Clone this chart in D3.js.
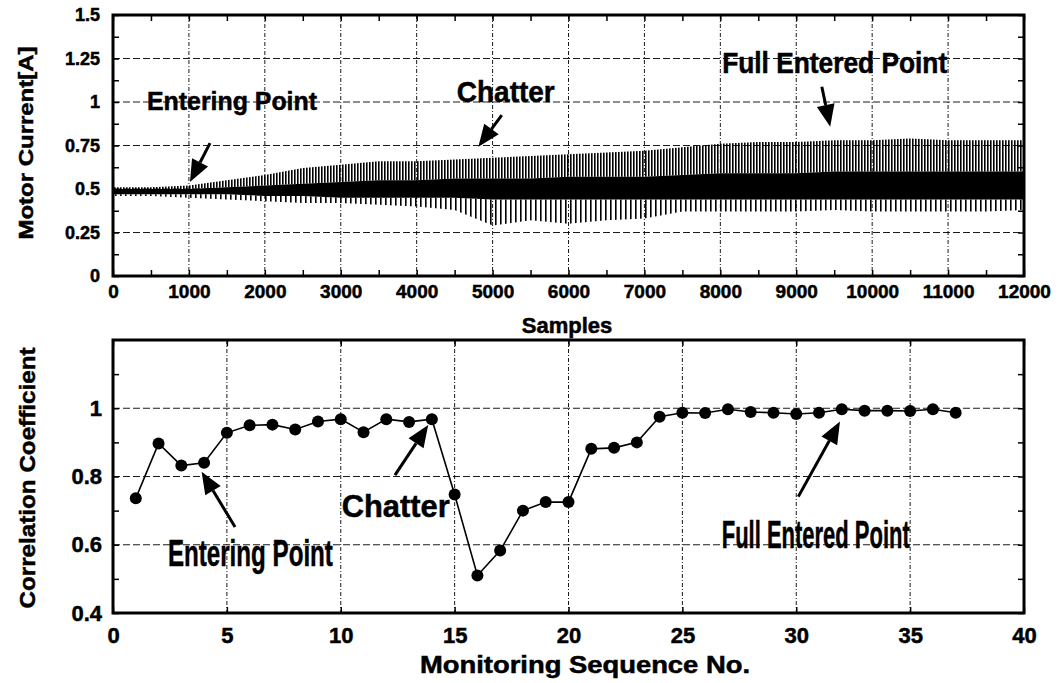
<!DOCTYPE html>
<html>
<head>
<meta charset="utf-8">
<script src="https://cdn.jsdelivr.net/npm/d3@7"></script>
<style>
  body { margin: 0; background: #fff; }
  text { font-family: "Liberation Sans", Arial, sans-serif; font-weight: bold; fill: #000;
         stroke: #000; stroke-width: 0.5px; }
</style>
</head>
<body>
<svg id="chart" width="1061" height="683"></svg>
<script>
'use strict';

// --- top panel: motor current envelope, read every 500 samples ---
const samplePos = [0, 500, 1000, 1500, 2000, 2500, 3000, 3500, 4000, 4500, 5000, 5500,
  6000, 6500, 7000, 7500, 8000, 8500, 9000, 9500, 10000, 10500, 11000, 11500, 12000];
const peakCurrent = [0.51, 0.51, 0.52, 0.55, 0.58, 0.62, 0.64, 0.66, 0.66, 0.67, 0.68, 0.69,
  0.70, 0.71, 0.72, 0.74, 0.76, 0.77, 0.77, 0.78, 0.78, 0.79, 0.78, 0.78, 0.78];
const coreHigh = [0.50, 0.50, 0.50, 0.51, 0.52, 0.53, 0.54, 0.55, 0.55, 0.56, 0.56, 0.56,
  0.57, 0.57, 0.57, 0.58, 0.59, 0.59, 0.59, 0.60, 0.60, 0.60, 0.60, 0.60, 0.60];
const coreLow = [0.47, 0.47, 0.47, 0.47, 0.46, 0.46, 0.45, 0.45, 0.45, 0.45, 0.44, 0.44,
  0.44, 0.44, 0.44, 0.44, 0.44, 0.44, 0.44, 0.44, 0.44, 0.44, 0.44, 0.44, 0.44];
const troughCurrent = [0.46, 0.46, 0.45, 0.44, 0.43, 0.42, 0.42, 0.41, 0.40, 0.38, 0.29, 0.32,
  0.30, 0.32, 0.33, 0.37, 0.37, 0.37, 0.37, 0.38, 0.37, 0.37, 0.37, 0.37, 0.38];

const sampleTicks = [0, 1000, 2000, 3000, 4000, 5000, 6000, 7000, 8000, 9000, 10000, 11000, 12000];
const currentTicks = [0, 0.25, 0.5, 0.75, 1, 1.25, 1.5];

// --- bottom panel: correlation coefficient per monitoring sequence ---
const seqNo = [1, 2, 3, 4, 5, 6, 7, 8, 9, 10, 11, 12, 13, 14, 15, 16, 17, 18, 19,
  20, 21, 22, 23, 24, 25, 26, 27, 28, 29, 30, 31, 32, 33, 34, 35, 36, 37];
const corrCoef = [0.736, 0.897, 0.832, 0.840, 0.928, 0.950, 0.952, 0.938, 0.961, 0.968,
  0.930, 0.968, 0.960, 0.968, 0.747, 0.510, 0.583, 0.700, 0.725, 0.725, 0.881, 0.884,
  0.900, 0.975, 0.987, 0.986, 0.997, 0.989, 0.987, 0.983, 0.987, 0.997, 0.993, 0.993,
  0.992, 0.997, 0.987];

const seqTicks = [0, 5, 10, 15, 20, 25, 30, 35, 40];
const corrTicks = [0.4, 0.6, 0.8, 1];

const topNotes = [
  { text: 'Entering Point', at: [448, 0.954], size: 25, width: 170, from: [1278, 0.764], to: [1014, 0.54] },
  { text: 'Chatter', at: [4528, 1.0], size: 30, width: 98, from: [5121, 0.925], to: [4813, 0.743] },
  { text: 'Full Entered Point', at: [8024, 1.165], size: 29, width: 225, from: [9337, 1.088], to: [9447, 0.858] },
];
const bottomNotes = [
  { text: 'Entering Point', at: [2.41, 0.538], size: 37, width: 165, from: [5.36, 0.652], to: [3.89, 0.814] },
  { text: 'Chatter', at: [10.04, 0.681], size: 31, width: 108, from: [12.38, 0.804], to: [13.84, 0.951] },
  { text: 'Full Entered Point', at: [26.73, 0.59], size: 39, width: 188, from: [30.09, 0.741], to: [31.92, 0.961] },
];

const svg = d3.select('#chart');
const defs = svg.append('defs');

function stripes(id, period, w) {
  const p = defs.append('pattern')
    .attr('id', id)
    .attr('patternUnits', 'userSpaceOnUse')
    .attr('width', period)
    .attr('height', 8);
  p.append('rect').attr('width', w).attr('height', 8).attr('fill', '#000');
}
stripes('upperStripes', 3, 1.6);
stripes('lowerStripes', 5, 1.6);

const xTop = d3.scaleLinear().domain([0, 12000]).range([113, 1024]);
const yTop = d3.scaleLinear().domain([0, 1.5]).range([276, 15]);
const xBot = d3.scaleLinear().domain([0, 40]).range([113, 1024]);
const yBot = d3.scaleLinear().domain([0.4, 1.2]).range([613, 340]);

function drawFrame(x, y, opt) {
  const g = svg.append('g');
  const [xa, xb] = x.range();
  const [ya, yb] = y.range();

  // dashed grid
  g.selectAll('.vgrid')
    .data(opt.xTicks.slice(1, -1))
    .enter().append('line')
    .attr('x1', (d) => x(d)).attr('x2', (d) => x(d))
    .attr('y1', yb).attr('y2', ya)
    .attr('stroke', '#000').attr('stroke-width', 0.9)
    .attr('stroke-dasharray', '4,2,1,2');
  g.selectAll('.hgrid')
    .data(opt.yTicks.filter((d) => y(d) > yb + 2 && y(d) < ya - 2))
    .enter().append('line')
    .attr('x1', xa).attr('x2', xb)
    .attr('y1', (d) => y(d)).attr('y2', (d) => y(d))
    .attr('stroke', '#000').attr('stroke-width', 0.9)
    .attr('stroke-dasharray', '7,3');

  // axes with inward ticks, labels on bottom / left
  const ax = (axis, tr, vals, fmt, pad, size) => {
    const a = g.append('g')
      .attr('transform', tr)
      .call(axis.tickValues(vals).tickSizeInner(-6).tickSizeOuter(0)
        .tickPadding(pad).tickFormat(fmt));
    a.select('.domain').remove();
    a.selectAll('line').attr('stroke', '#000').attr('stroke-width', 1.5);
    a.selectAll('text').attr('font-size', size).attr('font-family', null);
    return a;
  };
  const none = () => '';
  ax(d3.axisBottom(x), `translate(0,${ya})`, opt.xTicks, opt.xFmt, opt.xPad, opt.xSize);
  ax(d3.axisBottom(x), `translate(0,${ya})`, opt.xMinor, none, 0, 0);
  ax(d3.axisTop(x), `translate(0,${yb})`, opt.xTicks.concat(opt.xMinor), none, 0, 0);
  ax(d3.axisLeft(y), `translate(${xa},0)`, opt.yTicks, opt.yFmt, opt.yPad, opt.ySize);
  ax(d3.axisLeft(y), `translate(${xa},0)`, opt.yMinor, none, 0, 0);
  ax(d3.axisRight(y), `translate(${xb},0)`, opt.yTicks.concat(opt.yMinor), none, 0, 0);

  return g;
}

function addFrameBorder(x, y) {
  const [xa, xb] = x.range();
  const [ya, yb] = y.range();
  svg.append('rect')
    .attr('x', xa).attr('y', yb)
    .attr('width', xb - xa).attr('height', ya - yb)
    .attr('fill', 'none').attr('stroke', '#000').attr('stroke-width', 3);
}

function arrow(g, x, y, from, to) {
  const ax = x(from[0]), ay = y(from[1]);
  const bx = x(to[0]), by = y(to[1]);
  const ang = Math.atan2(by - ay, bx - ax);
  const len = 22, half = 9;
  const cx = bx - len * Math.cos(ang), cy = by - len * Math.sin(ang);
  const px = -Math.sin(ang) * half, py = Math.cos(ang) * half;
  g.append('line')
    .attr('x1', ax).attr('y1', ay).attr('x2', cx).attr('y2', cy)
    .attr('stroke', '#000').attr('stroke-width', 3);
  g.append('polygon')
    .attr('points', [[bx, by], [cx + px, cy + py], [cx - px, cy - py]].map((p) => p.join(',')).join(' '))
    .attr('fill', '#000');
}

function notes(x, y, list) {
  const g = svg.append('g');
  list.forEach((n) => {
    g.append('text')
      .attr('x', x(n.at[0])).attr('y', y(n.at[1]))
      .attr('font-size', n.size)
      .attr('textLength', n.width)
      .attr('lengthAdjust', 'spacingAndGlyphs')
      .text(n.text);
    arrow(g, x, y, n.from, n.to);
  });
}

// ---------- top panel ----------
drawFrame(xTop, yTop, {
  xTicks: sampleTicks,
  xMinor: d3.range(500, 12000, 1000),
  yTicks: currentTicks,
  yMinor: d3.range(0.125, 1.5, 0.25),
  xFmt: (d) => String(d), yFmt: (d) => String(d),
  xPad: 9, yPad: 13, xSize: 19, ySize: 18,
});

const signal = samplePos.map((s, i) => ({
  s, peak: peakCurrent[i], hi: coreHigh[i], lo: coreLow[i], trough: troughCurrent[i],
}));
const sigG = svg.append('g');
sigG.append('path').datum(signal)
  .attr('d', d3.area().x((d) => xTop(d.s)).y0((d) => yTop(d.hi)).y1((d) => yTop(d.peak)))
  .attr('fill', 'url(#upperStripes)');
sigG.append('path').datum(signal)
  .attr('d', d3.area().x((d) => xTop(d.s)).y0((d) => yTop(d.trough)).y1((d) => yTop(d.lo)))
  .attr('fill', 'url(#lowerStripes)');
sigG.append('path').datum(signal)
  .attr('d', d3.area().x((d) => xTop(d.s)).y0((d) => yTop(d.lo)).y1((d) => yTop(d.hi)))
  .attr('fill', '#000');

addFrameBorder(xTop, yTop);
notes(xTop, yTop, topNotes);

svg.append('text')
  .attr('transform', 'translate(33,143) rotate(-90)')
  .attr('text-anchor', 'middle')
  .attr('font-size', 21)
  .attr('textLength', 193).attr('lengthAdjust', 'spacingAndGlyphs')
  .text('Motor Current[A]');
svg.append('text')
  .attr('x', 567).attr('y', 333)
  .attr('text-anchor', 'middle')
  .attr('font-size', 22)
  .text('Samples');

// ---------- bottom panel ----------
drawFrame(xBot, yBot, {
  xTicks: seqTicks,
  xMinor: [],
  yTicks: corrTicks,
  yMinor: [0.5, 0.7, 0.9, 1.1],
  xFmt: (d) => String(d), yFmt: (d) => String(d),
  xPad: 14, yPad: 11, xSize: 22, ySize: 22,
});

const corr = seqNo.map((n, i) => ({ n, v: corrCoef[i] }));
const lineG = svg.append('g');
lineG.append('path').datum(corr)
  .attr('d', d3.line().x((d) => xBot(d.n)).y((d) => yBot(d.v)))
  .attr('fill', 'none').attr('stroke', '#000').attr('stroke-width', 1.6);
lineG.selectAll('circle')
  .data(corr)
  .enter().append('circle')
  .attr('cx', (d) => xBot(d.n)).attr('cy', (d) => yBot(d.v))
  .attr('r', 6).attr('fill', '#000');

addFrameBorder(xBot, yBot);
notes(xBot, yBot, bottomNotes);

svg.append('text')
  .attr('transform', 'translate(35,478) rotate(-90)')
  .attr('text-anchor', 'middle')
  .attr('font-size', 22)
  .attr('textLength', 261).attr('lengthAdjust', 'spacingAndGlyphs')
  .text('Correlation Coefficient');
svg.append('text')
  .attr('x', 585).attr('y', 673)
  .attr('text-anchor', 'middle')
  .attr('font-size', 23)
  .attr('textLength', 330).attr('lengthAdjust', 'spacingAndGlyphs')
  .text('Monitoring Sequence No.');
</script>
</body>
</html>
